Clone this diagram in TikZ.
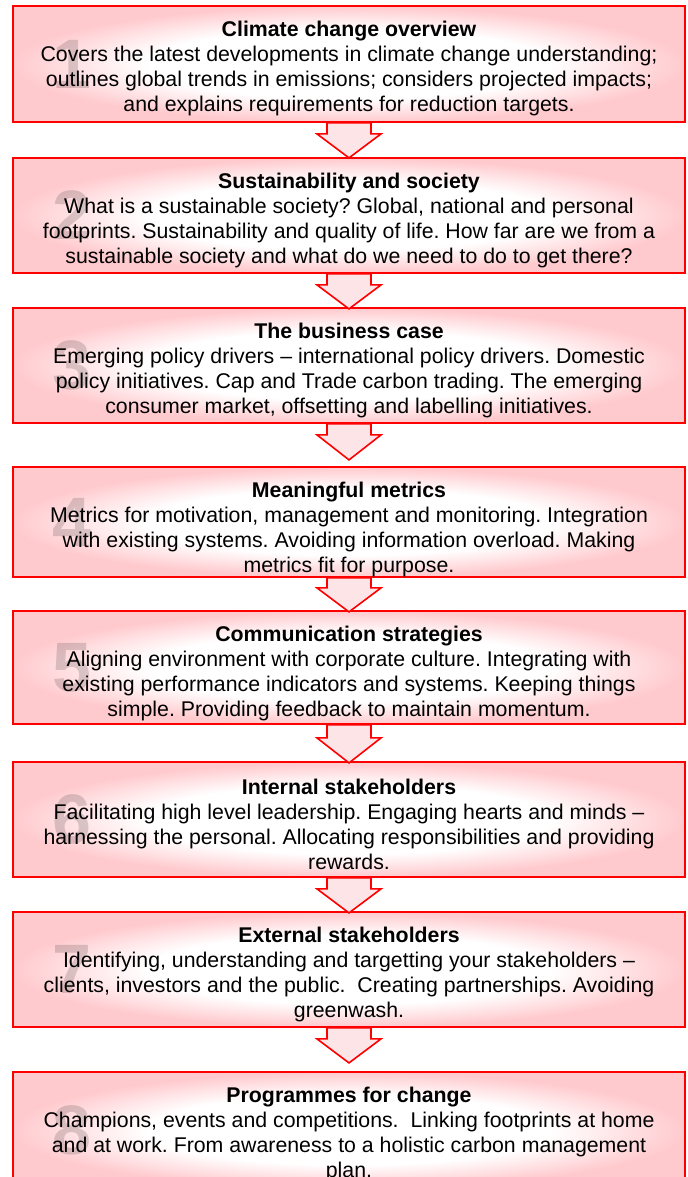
\documentclass[tikz,border=0pt]{standalone}
\usepackage{fontspec}
\setmainfont{Liberation Sans}
\usepackage{tikz}
\usetikzlibrary{calc}

\definecolor{glowpink}{RGB}{255,202,206}
\definecolor{arrowpink}{RGB}{253,228,231}
\definecolor{stagered}{RGB}{255,0,0}

% soft glow inside the boxes
\pgfdeclareradialshading{stageglow}{\pgfpoint{0bp}{0bp}}{color(0bp)=(white); color(15bp)=(white); color(25bp)=(glowpink); color(50bp)=(glowpink)}

\tikzset{
  bignum/.style={font=\fontsize{35}{35}\selectfont\bfseries, text=black, text opacity=0.15},
  stage/.style 2 args={rectangle, draw=stagered, line width=0.9pt, shade, shading=stageglow,
    minimum width=336pt, minimum height=#1, inner sep=0pt,
    path picture={\node[bignum] (n#2) at ([xshift=29.5pt]path picture bounding box.west) {#2};}},
  stagetext/.style={align=center, inner sep=0pt, font=\fontsize{10.65}{12.5}\selectfont\frenchspacing},
  chevronarrow/.style={draw=stagered, line width=0.8pt, fill=arrowpink, line join=miter},
}

% block arrow: stem top, stem length, head length
\newcommand{\chevron}[3]{%
  \draw[chevronarrow] ($(#1)+(-22,0)$) -- ++(0,#2) -- ++(-10,0) -- ++(32,#3) -- ++(32,-#3) -- ++(-10,0) -- ++(0,-#2) -- cycle;}

\begin{document}
\begin{tikzpicture}[x=0.5pt, y=-0.5pt]

\useasboundingbox (0,0) rectangle (688,1177);
\fill[white] (0,0) rectangle (688,1177);
\clip (0,0) rectangle (688,1177);

% Les cadres des étapes
\node[stage={58pt}{1}] (b1) at (349,64) {};
\node[stage={57.5pt}{2}] (b2) at (349,215.5) {};
\node[stage={57.5pt}{3}] (b3) at (349,365.5) {};
\node[stage={55pt}{4}] (b4) at (349,522) {};
\node[stage={56.5pt}{5}] (b5) at (349,667.5) {};
\node[stage={57.5pt}{6}] (b6) at (349,819.5) {};
\node[stage={57.5pt}{7}] (b7) at (349,969.5) {};
\node[stage={58pt}{8}] (b8) at (349,1130) {};

% Les textes
\node[stagetext] (t1) at ($(b1.north)+(0,63)$) {\textbf{Climate change overview}\\
Covers the latest developments in climate change understanding;\\
outlines global trends in emissions; considers projected impacts;\\
and explains requirements for reduction targets.};

\node[stagetext] (t2) at ($(b2.north)+(0,63)$) {\textbf{Sustainability and society}\\
What is a sustainable society? Global, national and personal\\
footprints. Sustainability and quality of life. How far are we from a\\
sustainable society and what do we need to do to get there?};

\node[stagetext] (t3) at ($(b3.north)+(0,63)$) {\textbf{The business case}\\
Emerging policy drivers -- international policy drivers. Domestic\\
policy initiatives. Cap and Trade carbon trading. The emerging\\
consumer market, offsetting and labelling initiatives.};

\node[stagetext] (t4) at ($(b4.north)+(0,63)$) {\textbf{Meaningful metrics}\\
Metrics for motivation, management and monitoring. Integration\\
with existing systems. Avoiding information overload. Making\\
metrics fit for purpose.};

\node[stagetext] (t5) at ($(b5.north)+(0,63)$) {\textbf{Communication strategies}\\
Aligning environment with corporate culture. Integrating with\\
existing performance indicators and systems. Keeping things\\
simple. Providing feedback to maintain momentum.};

\node[stagetext] (t6) at ($(b6.north)+(0,63)$) {\textbf{Internal stakeholders}\\
Facilitating high level leadership. Engaging hearts and minds --\\
harnessing the personal. Allocating responsibilities and providing\\
rewards.};

\node[stagetext] (t7) at ($(b7.north)+(0,63)$) {\textbf{External stakeholders}\\
Identifying, understanding and targetting your stakeholders --\\
clients, investors and the public.\ \ Creating partnerships. Avoiding\\
greenwash.};

\node[stagetext] (t8) at ($(b8.north)+(0,63)$) {\textbf{Programmes for change}\\
Champions, events and competitions.\ \ Linking footprints at home\\
and at work. From awareness to a holistic carbon management\\
plan.};

% Les flèches
\chevron{b1.south}{11}{24}
\chevron{b2.south}{11}{24}
\chevron{b3.south}{11}{25}
\chevron{b4.south}{10}{24}
\chevron{b5.south}{13}{25}
\chevron{b6.south}{11}{24}
\chevron{b7.south}{11}{24}

\end{tikzpicture}
\end{document}
